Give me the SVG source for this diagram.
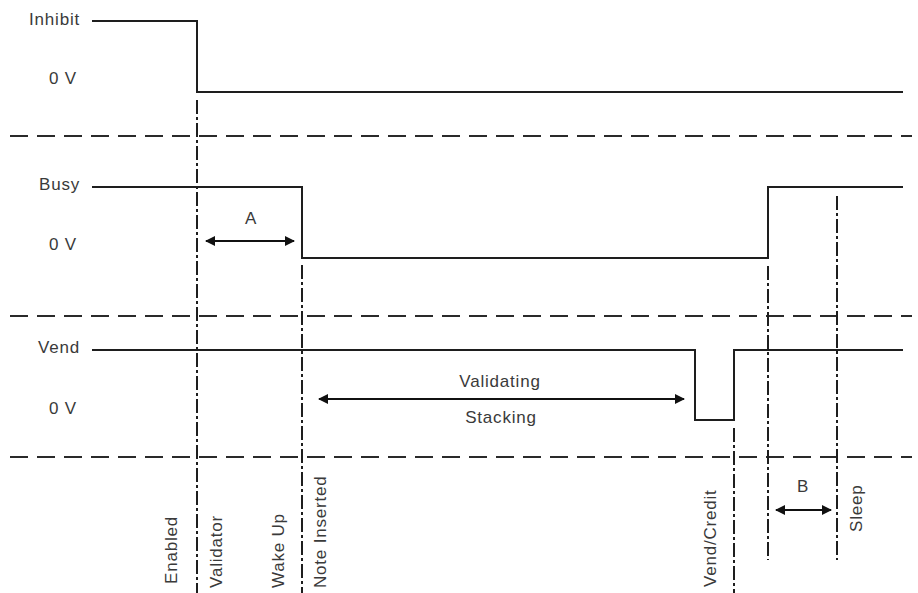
<svg xmlns="http://www.w3.org/2000/svg" width="918" height="593" viewBox="0 0 918 593">
<style>
text{font-family:"Liberation Sans",Arial,sans-serif;font-size:17px;fill:#3a3a3a;letter-spacing:0.8px}
.sig{fill:none;stroke:#1e1e1e;stroke-width:2}
.sep{fill:none;stroke:#2a2a2a;stroke-width:2;stroke-dasharray:18 9}
.mark{fill:none;stroke:#1e1e1e;stroke-width:2;stroke-dasharray:14 3 3 3}
.arr{fill:none;stroke:#111;stroke-width:2;marker-start:url(#ah);marker-end:url(#ah)}
.mid{text-anchor:middle}
.end{text-anchor:end}
</style>
<defs>
<marker id="ah" viewBox="0 0 10 10" refX="9" refY="5" markerWidth="6" markerHeight="5" orient="auto-start-reverse" markerUnits="strokeWidth">
<path d="M0,0 L10,5 L0,10 z" fill="#111"/>
</marker>
</defs>
<rect width="918" height="593" fill="#fff"/>
<g id="separators">
<line class="sep" x1="10" y1="136" x2="912" y2="136"/>
<line class="sep" x1="10" y1="316" x2="912" y2="316"/>
<line class="sep" x1="10" y1="457" x2="912" y2="457"/>
</g>
<g id="markers">
<line class="mark" x1="197" y1="100" x2="197" y2="593"/>
<line class="mark" x1="302" y1="265" x2="302" y2="593"/>
<line class="mark" x1="734" y1="428" x2="734" y2="593"/>
<line class="mark" x1="768" y1="266" x2="768" y2="560"/>
<line class="mark" x1="837" y1="196" x2="837" y2="560"/>
</g>
<g id="signal-inhibit">
<text class="end" x="80" y="25">Inhibit</text>
<text class="end" x="77" y="84">0 V</text>
<polyline class="sig" points="92,21 197,21 197,92 903,92"/>
</g>
<g id="signal-busy">
<text class="end" x="80" y="190">Busy</text>
<text class="end" x="77" y="250">0 V</text>
<polyline class="sig" points="92,187 302,187 302,258 768,258 768,187 903,187"/>
</g>
<g id="signal-vend">
<text class="end" x="80" y="353">Vend</text>
<text class="end" x="77" y="414">0 V</text>
<polyline class="sig" points="92,350 695,350 695,420 734,420 734,350 903,350"/>
</g>
<g id="connectors">
<line class="arr" x1="206" y1="241" x2="294" y2="241"/>
<line class="arr" x1="319" y1="399" x2="684" y2="399"/>
<line class="arr" x1="776" y1="510" x2="831" y2="510"/>
</g>
<g id="interval-labels">
<text class="mid" x="251" y="224">A</text>
<text class="mid" x="500" y="387">Validating</text>
<text class="mid" x="501" y="423">Stacking</text>
<text class="mid" x="803" y="492">B</text>
</g>
<g id="event-labels">
<text transform="translate(177,584) rotate(-90)">Enabled</text>
<text transform="translate(222,588) rotate(-90)">Validator</text>
<text transform="translate(284,588) rotate(-90)">Wake Up</text>
<text transform="translate(326,588) rotate(-90)">Note Inserted</text>
<text transform="translate(716,587) rotate(-90)">Vend/Credit</text>
<text transform="translate(862,532) rotate(-90)">Sleep</text>
</g>
</svg>
